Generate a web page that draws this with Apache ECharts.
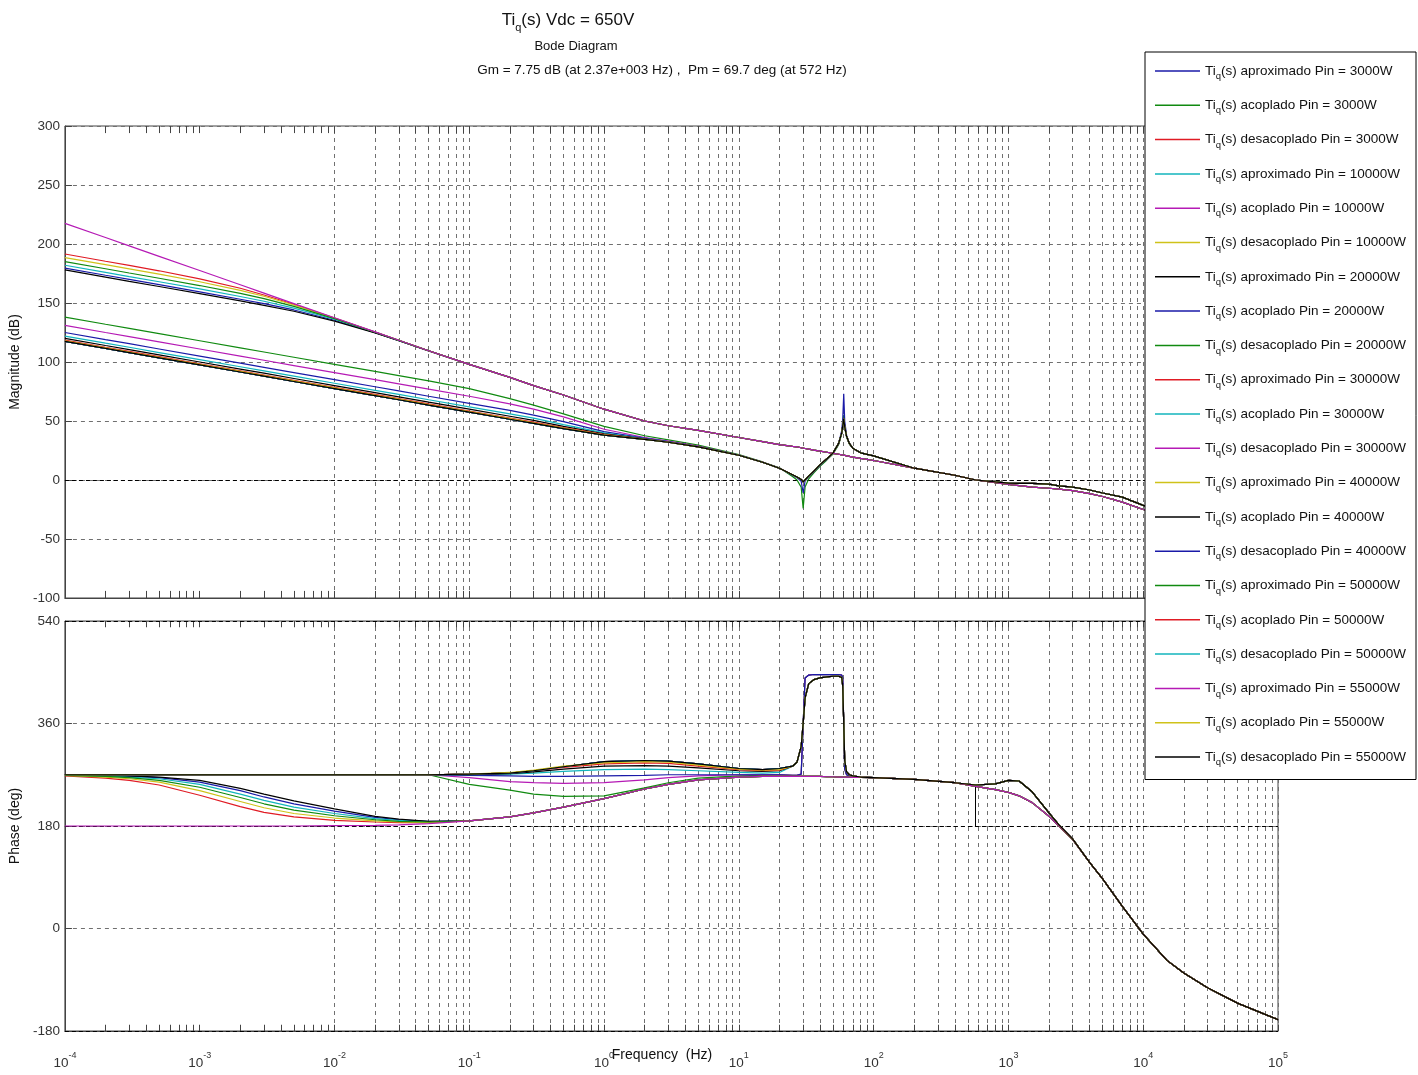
<!DOCTYPE html>
<html>
<head>
<meta charset="utf-8">
<title>Tiq(s) Vdc = 650V</title>
<script src="https://cdn.jsdelivr.net/npm/echarts@6/dist/echarts.min.js"></script>
<style>
html, body { margin: 0; padding: 0; background: #fff; }
#chart { width: 1418px; height: 1075px; }
</style>
</head>
<body>
<div id="chart"></div>
<script>
var FONT = '"Liberation Sans", Arial, sans-serif';

// frequency bands (Hz)
var fLow = [1e-4, 2e-4, 3e-4, 5e-4, 1e-3, 2e-3, 3e-3, 5e-3, 1e-2, 2e-2, 3e-2, 5e-2];
var fMid = [0.1, 0.2, 0.3, 0.5, 1, 2, 3, 5, 10, 15, 20];
var fRes = [25, 27, 29, 30, 31, 33, 36, 40, 45, 50, 55, 58, 59, 60, 61, 63, 66, 70, 80, 100];
var fHigh = [200, 400, 572, 800, 1000, 1200, 1500, 2000, 2370, 3000, 4000, 5000, 7000, 1e4, 1.5e4, 2e4, 3e4, 5e4, 1e5];

var pins = [3000, 10000, 20000, 30000, 40000, 50000, 55000];
var models = ['aproximado', 'acoplado', 'desacoplado'];
// matlab order b g r c m y k
var colors = ['#1a1aa8', '#108a10', '#e01b24', '#12b5bd', '#b51ab5', '#cfc21a', '#000000'];

// margins from the title
var gmDb = 7.75, gmHz = 2370, pmDeg = 69.7, pmHz = 572;

// ---------- magnitude (dB) ----------
// aproximado, one row per Pin
var magApxLow = [
  [179.5, 173.5, 170.0, 165.5, 159.4, 153.2, 149.4, 144.1, 135.4, 124.8, 118.1, 109.4],
  [182.0, 176.0, 172.4, 168.0, 161.9, 155.5, 151.5, 145.7, 136.2, 125.1, 118.3, 109.5],
  [178.0, 172.0, 168.4, 164.0, 158.0, 151.8, 148.0, 143.0, 134.7, 124.6, 118.0, 109.4],
  [191.5, 185.4, 181.9, 177.3, 170.5, 162.5, 156.8, 148.9, 137.3, 125.4, 118.4, 109.5],
  [188.5, 182.5, 178.9, 174.4, 168.0, 160.7, 155.7, 148.3, 137.2, 125.4, 118.4, 109.5],
  [185.0, 179.0, 175.4, 171.0, 164.8, 158.1, 153.7, 147.2, 136.8, 125.3, 118.3, 109.5],
  [217.5, 205.5, 198.4, 189.5, 177.5, 165.5, 158.4, 149.5, 137.5, 125.5, 118.4, 109.5]
];
var magApxMid = [98, 87, 80, 72, 60, 50, 46, 42, 36, 32.5, 30];
var magApxRes = [28.5, 28, 27.3, 27, 26.7, 26.1, 25.3, 24.5, 23.5, 22.5, 21.8, 21.3, 21.1, 21, 20.8, 20.5, 20, 19.4, 18.3, 16.5];
var magApxHigh = [10, 4, 0, -2.2, -3.8, -4.8, -6, -7, -7.75, -9, -11.5, -14, -18.8, -25, -31, -35, -41, -48, -58];

// acoplado, one row per Pin
var magAcoLow = [
  [138, 132, 128.5, 124, 118, 112, 108.5, 104, 98, 92, 88.5, 84],
  [131, 125, 121.5, 117, 111, 105, 101.5, 97, 91, 85, 81.5, 77],
  [125, 119, 115.5, 111, 105, 99, 95.5, 91, 85, 79, 75.5, 71],
  [122, 116, 112.5, 108, 102, 96, 92.5, 88, 82, 76, 72.5, 68],
  [120, 114, 110.5, 106, 100, 94, 90.5, 86, 80, 74, 70.5, 66],
  [118.5, 112.5, 109, 104.5, 98.5, 92.5, 89, 84.5, 78.5, 72.5, 69, 64.5],
  [118, 112, 108.5, 104, 98, 92, 88.5, 84, 78, 72, 68.5, 64]
];
var magAcoMid = [
  [77.5, 69, 63.5, 56, 45.5, 37.5, 34, 29.5, 21.5, 15.3, 10.3],
  [71, 64.5, 60, 53.5, 43, 36, 33, 28.8, 21.2, 15.1, 10.1],
  [65, 59, 55, 49.5, 41, 35.5, 32.5, 28.4, 21.1, 15, 10],
  [62, 56, 52.5, 47, 40, 35, 32.3, 28.2, 21, 15, 10],
  [60, 54, 50.5, 45.5, 39.2, 34.8, 32.2, 28.1, 21, 15, 10],
  [58.5, 52.5, 49, 44.5, 38.6, 34.6, 32.1, 28, 21, 15, 10],
  [58, 52, 48.5, 44, 38.3, 34.5, 32, 28, 21, 15, 10]
];
// desacoplado (same for every Pin)
var magDesLow = [117.5, 111.5, 108, 103.5, 97.5, 91.5, 88, 83.5, 77.5, 71.5, 68, 63.5];
var magDesMid = [57.5, 51.5, 48, 43.5, 38, 34.5, 32, 28, 21, 15, 10];
// notch (30 Hz) / peak (60 Hz) shapes
var magResDeep = [3, 0, -6, -24, -6, 1, 6, 11.5, 17, 22, 30, 39, 45, 55, 44, 36, 30.5, 27, 23, 20.5];
var magResPeak = [4, 2, -1, -11, -1, 3, 7, 12.5, 17.5, 23, 31, 42, 52, 73, 50, 38, 31, 27, 23, 20.5];
var magResSoft = [4.5, 2.5, 0.5, -1.5, 0, 3.5, 7.5, 13, 18, 23, 31, 40, 46, 52, 45, 37, 31, 27, 23, 20.5];
var magHighBump = [10, 4, 0, -1.6, -2.6, -2.8, -2.8, -3.5, -5, -6, -8.5, -11, -14.5, -21.5, -28, -32, -38, -45, -55];

// ---------- phase (deg) ----------
var phApxLow = [
  [270, 269, 267, 265, 257, 242, 231, 219, 206, 195, 191, 188],
  [270, 268, 266, 263, 253, 236, 225, 213, 202, 193, 190, 187],
  [270, 269, 268, 266, 260, 246, 236, 224, 210, 197, 192, 188],
  [268, 264, 260, 252, 234, 214, 204, 196, 190, 187, 186, 186],
  [269, 266, 263, 257, 242, 223, 212, 202, 194, 189, 187, 186],
  [269, 267, 265, 260, 248, 230, 219, 208, 198, 191, 188, 187],
  [180, 180, 180, 180, 180, 180, 180, 180, 180.5, 181, 182, 184]
];
var phApxMid = [189, 196, 203, 213, 228, 245, 253, 261, 266, 267, 267];
var phApxRes = [267, 267, 267, 267, 267, 267, 267, 267, 266.5, 266.5, 266, 266, 266, 266, 266, 266, 266, 265.5, 265.5, 265];
var phApxHigh = [262, 256, 249.7, 244, 239, 233, 221, 197, 180, 156, 116, 87, 39, -10, -56, -78, -104, -131, -160];

var phFlatLow = [270, 270, 270, 270, 270, 270, 270, 270, 270, 270, 270, 270];
var phAcoMid = [
  [253, 243, 236, 232, 233, 247, 256, 264, 268, 269, 270],
  [265, 258, 256, 255, 256, 261, 265, 268, 270, 270, 270],
  [269, 268, 267, 267, 268, 269, 270, 270, 270, 270, 270],
  [270, 271, 273, 276, 279, 280, 279, 277, 274, 273, 274],
  [270, 272, 275, 280, 285, 286, 285, 282, 277, 276, 277],
  [271, 273, 277, 283, 289, 291, 290, 285, 279, 277, 278],
  [271, 274, 278, 285, 291, 293, 292, 287, 280, 278, 279]
];
var phDesMid = [271, 273, 277, 284, 293, 295, 294, 289, 281, 279, 281];
var phResSharp = [269, 269, 271, 360, 440, 445, 446, 446, 446, 446, 446, 445, 440, 360, 280, 270, 268, 267, 266, 265];
var phResRound = [285, 292, 320, 360, 405, 430, 437, 440, 442, 443, 443, 441, 425, 360, 295, 275, 270, 268, 266, 265];
var phHighBump = [262, 256, 252, 254, 260, 259, 240, 203, 182, 157, 116, 87, 39, -10, -56, -78, -104, -131, -160];

// which notch shape each acoplado curve uses
var acoMagRes = [magResDeep, magResSoft, magResPeak, magResSoft, magResSoft, magResSoft, magResSoft];
var acoPhRes = [phResSharp, phResSharp, phResSharp, phResRound, phResRound, phResRound, phResRound];

var freq = fLow.concat(fMid, fRes, fHigh);
function toPairs(vals) {
  return freq.map(function (f, i) { return [f, vals[i]]; });
}

var curves = [];
pins.forEach(function (pin, p) {
  var mags = [
    magApxLow[p].concat(magApxMid, magApxRes, magApxHigh),
    magAcoLow[p].concat(magAcoMid[p], acoMagRes[p], magHighBump),
    magDesLow.concat(magDesMid, magResSoft, magHighBump)
  ];
  var phs = [
    phApxLow[p].concat(phApxMid, phApxRes, phApxHigh),
    phFlatLow.concat(phAcoMid[p], acoPhRes[p], phHighBump),
    phFlatLow.concat(phDesMid, phResRound, phHighBump)
  ];
  models.forEach(function (m, k) {
    curves.push({
      name: 'Ti_q(s) ' + m + ' Pin = ' + pin + 'W',
      color: colors[(p * 3 + k) % 7],
      mag: mags[k],
      ph: phs[k]
    });
  });
});

// vertical grid: every 1..9 x 10^k
var gridX = [];
for (var ex = -4; ex < 5; ex++) {
  for (var mm = 1; mm < 10; mm++) gridX.push(mm * Math.pow(10, ex));
}
gridX.push(1e5);

var gridDash = { type: [4, 4], color: '#707070', width: 1 };
var refDash = { type: [4, 3], color: '#000', width: 1 };
var tickStyle = { type: 'solid', color: '#444', width: 1 };
var solidBlack = { type: 'solid', color: '#000', width: 1 };

// gi: grid index, lo/hi: y range, tk: tick length in data units
function helper(gi, lo, hi, tk, refs, extra) {
  var data = gridX.map(function (v) { return { xAxis: v, lineStyle: gridDash }; });
  gridX.forEach(function (v) {
    data.push([{ coord: [v, lo], lineStyle: tickStyle }, { coord: [v, lo + tk] }]);
    data.push([{ coord: [v, hi], lineStyle: tickStyle }, { coord: [v, hi - tk] }]);
  });
  refs.forEach(function (v) { data.push({ yAxis: v, lineStyle: refDash }); });
  extra.forEach(function (seg) { data.push(seg); });
  return {
    type: 'line', name: 'grid' + gi, xAxisIndex: gi, yAxisIndex: gi,
    data: [], silent: true, z: 1,
    markLine: {
      z: 1, silent: true, symbol: ['none', 'none'], label: { show: false },
      animation: false, emphasis: { disabled: true },
      data: data
    }
  };
}

var series = [
  helper(0, -100, 300, 6, [0], [[{ coord: [gmHz, 0], lineStyle: solidBlack }, { coord: [gmHz, -gmDb] }]]),
  helper(1, -180, 540, 11, [540, 180, -180], [[{ coord: [pmHz, 180], lineStyle: solidBlack }, { coord: [pmHz, 180 + pmDeg] }]])
];
curves.forEach(function (c) {
  [0, 1].forEach(function (gi) {
    series.push({
      type: 'line', name: c.name, xAxisIndex: gi, yAxisIndex: gi,
      data: toPairs(gi === 0 ? c.mag : c.ph),
      showSymbol: false, symbol: 'none', z: 2,
      color: c.color,
      lineStyle: { width: 1.2, color: c.color }
    });
  });
});

var subRich = {
  n: { fontSize: 13.5, fontFamily: FONT, color: '#111', lineHeight: 21 },
  q: { fontSize: 9.5, fontFamily: FONT, color: '#111', verticalAlign: 'bottom' }
};

function xAxisCfg(gi) {
  return {
    type: 'log', logBase: 10, min: 1e-4, max: 1e5, gridIndex: gi,
    axisLine: { show: true, onZero: false, lineStyle: { color: '#444' } },
    axisTick: { show: false },
    splitLine: { show: false },
    axisLabel: gi === 1 ? {
      margin: 20,
      formatter: function (v) {
        return '{b|10}{e|' + Math.round(Math.log10(v)) + '}';
      },
      rich: {
        b: { fontSize: 13.5, fontFamily: FONT, color: '#333', lineHeight: 24 },
        e: { fontSize: 9, fontFamily: FONT, color: '#333', verticalAlign: 'top' }
      }
    } : { show: false }
  };
}

function yAxisCfg(gi, min, max, step, title) {
  return {
    type: 'value', gridIndex: gi, min: min, max: max, interval: step,
    axisLine: { show: true, onZero: false, lineStyle: { color: '#444' } },
    axisTick: { show: true, inside: true, length: 7, lineStyle: { color: '#444' } },
    splitLine: { show: true, lineStyle: gridDash },
    axisLabel: { fontSize: 13.5, fontFamily: FONT, color: '#333', margin: 5 },
    name: title, nameLocation: 'middle', nameGap: 41,
    nameTextStyle: { fontFamily: FONT, fontSize: 14, color: '#111' }
  };
}

var option = {
  backgroundColor: '#fff',
  animation: false,
  graphic: [
    { type: 'text', x: 568, y: 20, style: {
      text: '{n|Ti}{q|q}{n|(s) Vdc = 650V}', align: 'center', verticalAlign: 'middle',
      rich: {
        n: { fontSize: 17, fontFamily: FONT, fill: '#111', lineHeight: 26 },
        q: { fontSize: 11, fontFamily: FONT, fill: '#111', verticalAlign: 'bottom' }
      } } },
    { type: 'text', x: 576, y: 46, style: {
      text: 'Bode Diagram', align: 'center', verticalAlign: 'middle',
      font: '13px ' + FONT, fill: '#111' } },
    { type: 'text', x: 662, y: 70, style: {
      text: 'Gm = 7.75 dB (at 2.37e+003 Hz) ,  Pm = 69.7 deg (at 572 Hz)',
      align: 'center', verticalAlign: 'middle', font: '13.5px ' + FONT, fill: '#111' } },
    { type: 'text', x: 662, y: 1055, style: {
      text: 'Frequency  (Hz)', align: 'center', verticalAlign: 'middle',
      font: '14px ' + FONT, fill: '#111' } }
  ],
  legend: {
    data: curves.map(function (c) { return c.name; }),
    orient: 'vertical', left: 1145, top: 52, z: 50,
    padding: [12, 10, 12, 10],
    icon: 'rect',
    itemWidth: 45, itemHeight: 1.5, itemGap: 16.8, itemTextGap: 7,
    backgroundColor: '#fff', borderColor: '#000', borderWidth: 1,
    selectedMode: false,
    formatter: function (name) {
      return '{n|Ti}{q|q}{n|' + name.replace('Ti_q', '') + '}';
    },
    textStyle: { rich: subRich }
  },
  grid: [
    { left: 63, right: 140, top: 126, bottom: 477, show: true, borderColor: '#444', borderWidth: 1 },
    { left: 63, right: 140, top: 621, bottom: 44, show: true, borderColor: '#444', borderWidth: 1 }
  ],
  xAxis: [xAxisCfg(0), xAxisCfg(1)],
  yAxis: [
    yAxisCfg(0, -100, 300, 50, 'Magnitude (dB)'),
    yAxisCfg(1, -180, 540, 180, 'Phase (deg)')
  ],
  series: series
};

var chart = echarts.init(document.getElementById('chart'));
chart.setOption(option);
</script>
</body>
</html>
